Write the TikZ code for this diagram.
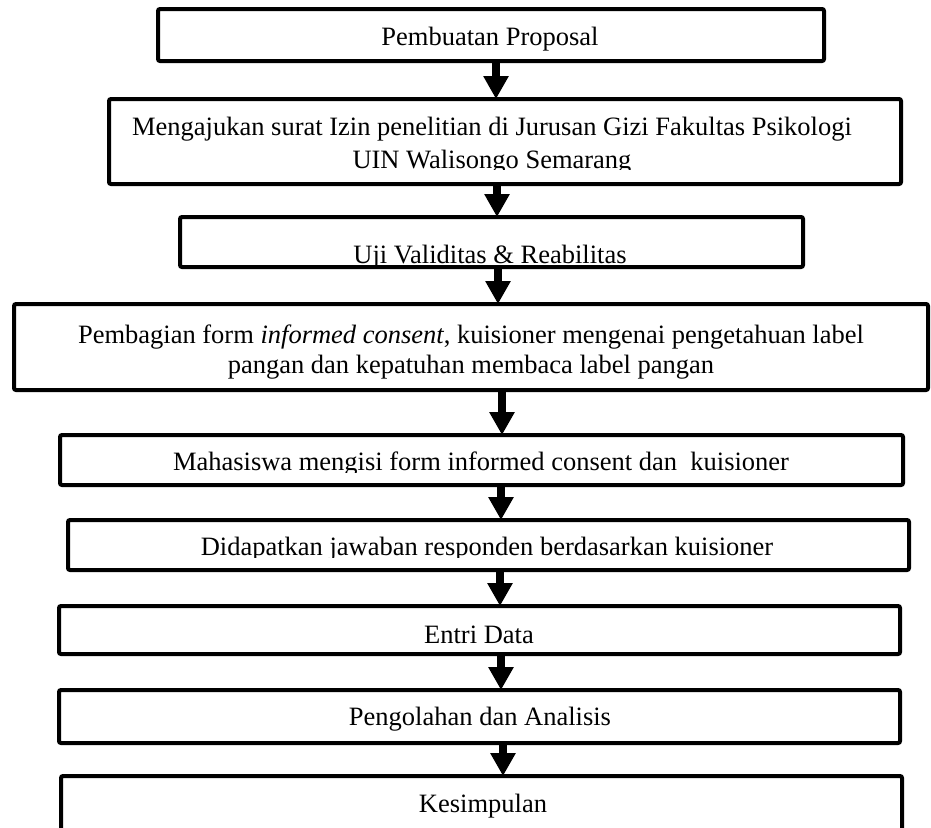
\documentclass[tikz,border=0pt]{standalone}
\usepackage{fontspec}
\setmainfont{Liberation Serif}
\usetikzlibrary{arrows.meta}
\begin{document}
\begin{tikzpicture}[x=1pt,y=-1pt,
  box/.style={draw, line width=4pt, rounded corners=2pt, inner sep=0pt, outer sep=0pt},
  lbl/.style={anchor=base, inner sep=0pt, align=center, font=\fontsize{26.5}{30}\selectfont},
  flow/.style={line width=8pt, -{Triangle[width=24pt,length=23pt]}}]
\useasboundingbox (0,0) rectangle (931,827);
\clip (0,0) rectangle (931,827);
% boxes
\node[box, minimum width=666pt, minimum height=52pt] (b1) at (491,35) {};
\node[box, minimum width=792pt, minimum height=85pt] (b2) at (505,141.5) {};
\node[box, minimum width=623pt, minimum height=50pt] (b3) at (491.5,242) {};
\node[box, minimum width=914pt, minimum height=86pt] (b4) at (471,347) {};
\node[box, minimum width=843pt, minimum height=50pt] (b5) at (481.5,460) {};
\node[box, minimum width=841pt, minimum height=50pt] (b6) at (488.5,545) {};
\node[box, minimum width=841pt, minimum height=48pt] (b7) at (479.5,630) {};
\node[box, minimum width=841pt, minimum height=53pt] (b8) at (479.5,716.5) {};
\node[box, minimum width=841pt, minimum height=74pt] (b9) at (481.5,813) {};
% texts (anchor=base is the baseline of the last line)
\node[lbl] (t1) at (490,45) {Pembuatan Proposal};
\begin{scope}
\clip (0,90) rectangle (931,169);
\node[lbl, font=\fontsize{26.5}{33}\selectfont] (t2) at (492,168) {Mengajukan surat Izin penelitian di Jurusan Gizi Fakultas Psikologi\\UIN Walisongo Semarang};
\end{scope}
\begin{scope}
\clip (0,200) rectangle (931,264);
\node[lbl] (t3) at (490,263) {Uji Validitas \& Reabilitas};
\end{scope}
\node[lbl] (t4) at (471,373) {Pembagian form \textit{informed consent}, kuisioner mengenai pengetahuan label\\pangan dan kepatuhan membaca label pangan};
\begin{scope}
\clip (0,420) rectangle (931,472);
\node[lbl] (t5) at (481,470) {Mahasiswa mengisi form informed consent dan~ kuisioner};
\end{scope}
\begin{scope}
\clip (0,505) rectangle (931,557);
\node[lbl] (t6) at (487,555) {Didapatkan jawaban responden berdasarkan kuisioner};
\end{scope}
\node[lbl] (t7) at (479,643) {Entri Data};
\node[lbl] (t8) at (480,725) {Pengolahan dan Analisis};
\node[lbl] (t9) at (483,812) {Kesimpulan};
% arrow columns
\coordinate (x1) at (496,0);
\coordinate (x2) at (497,0);
\coordinate (x3) at (498,0);
\coordinate (x4) at (502,0);
\coordinate (x5) at (501,0);
\coordinate (x6) at (500,0);
\coordinate (x7) at (501,0);
\coordinate (x8) at (503,0);
\draw[flow] (b1.south -| x1) -- (b2.north -| x1);
\draw[flow] (b2.south -| x2) -- (b3.north -| x2);
\draw[flow] (b3.south -| x3) -- (b4.north -| x3);
\draw[flow] (b4.south -| x4) -- (b5.north -| x4);
\draw[flow] (b5.south -| x5) -- (b6.north -| x5);
\draw[flow] (b6.south -| x6) -- (b7.north -| x6);
\draw[flow] (b7.south -| x7) -- (b8.north -| x7);
\draw[flow] (b8.south -| x8) -- (b9.north -| x8);
\end{tikzpicture}
\end{document}
